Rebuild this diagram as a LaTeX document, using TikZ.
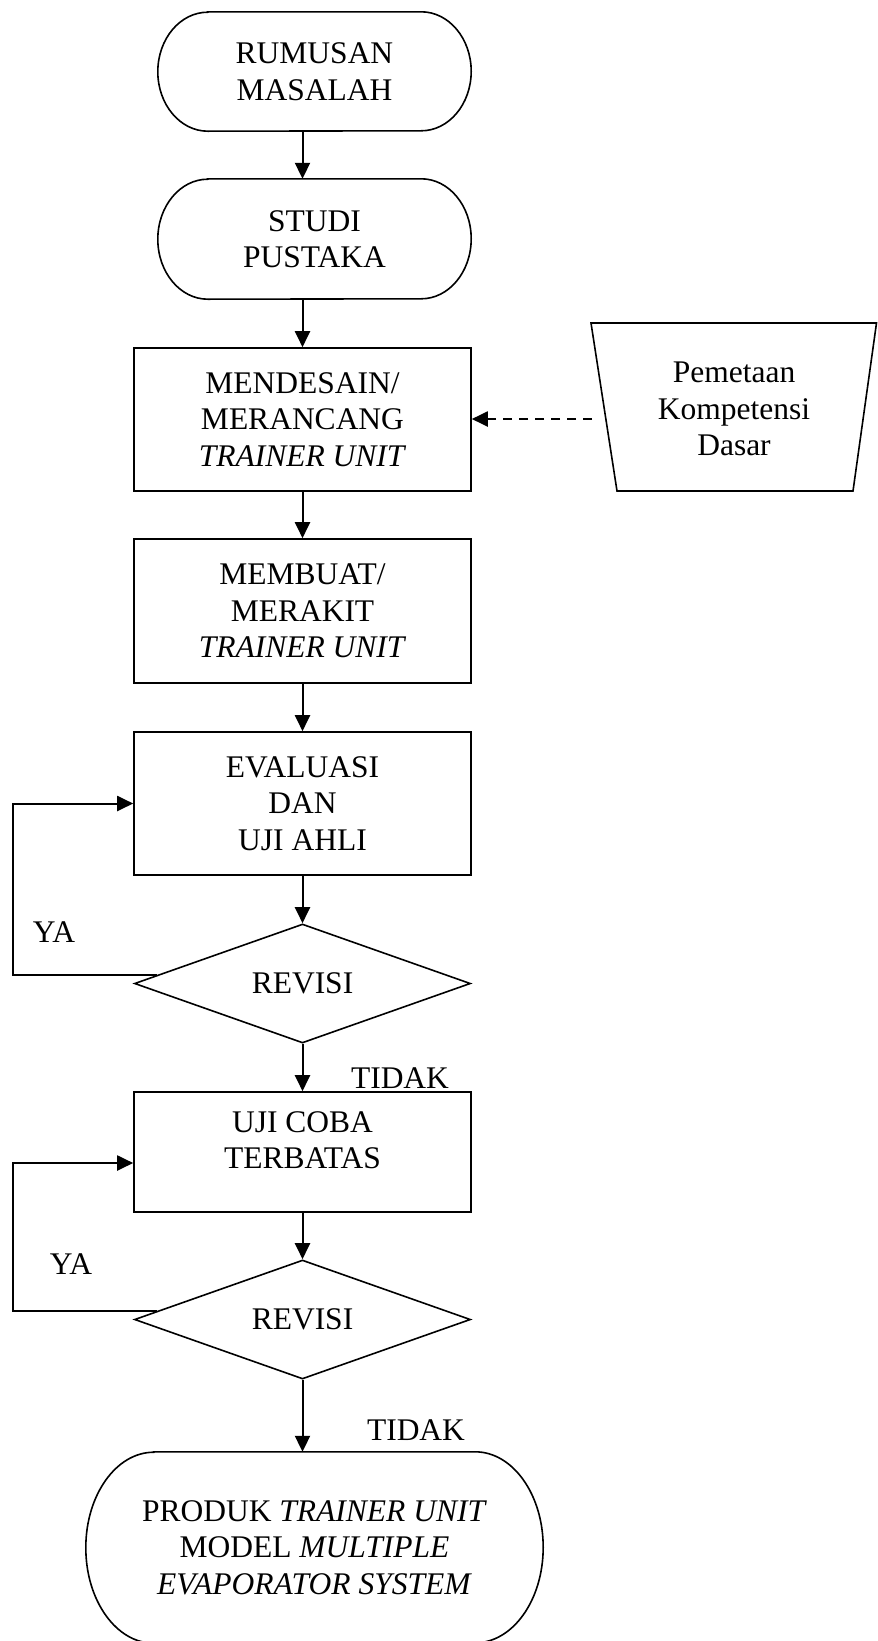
\documentclass[tikz,border=0pt]{standalone}
\usepackage{fontspec}
\setmainfont{Liberation Serif}
\usetikzlibrary{arrows.meta,calc,shapes.geometric}
\begin{document}
\begin{tikzpicture}[x=1pt,y=1pt,
  every node/.style={font=\fontsize{31.5}{36.5}\selectfont},
  shapeline/.style={line width=1.6pt},
  procbox/.style={draw,shapeline,rectangle,minimum width=337pt,inner sep=0pt,align=center},
  termbox/.style={rectangle,inner sep=0pt,align=center},
  decbox/.style={draw,shapeline,diamond,aspect=2.82,minimum width=336pt,minimum height=119pt,inner sep=0pt},
  lbl/.style={inner sep=0pt},
  arr/.style={line width=2pt,-{Triangle[length=16pt,width=15pt]}},
  dasharr/.style={line width=2pt,dash pattern=on 9pt off 7pt,-{Triangle[length=16pt,width=15pt]}}
]
\useasboundingbox (0,0) rectangle (878,-1641);
\clip (0,0) rectangle (878,-1641);

% terminals (text holders)
\node[termbox,minimum width=313pt,minimum height=119pt] (t1) at (314.5,-71.5) {RUMUSAN\\MASALAH};
\node[termbox,minimum width=313pt,minimum height=120pt] (t2) at (314.5,-239) {STUDI\\PUSTAKA};
\node[termbox,minimum width=457pt,minimum height=191pt] (t3) at (314.5,-1547.5)
  {PRODUK \textit{TRAINER UNIT}\\MODEL \textit{MULTIPLE}\\\textit{EVAPORATOR SYSTEM}};

% terminal outlines
\draw[shapeline] ([xshift=50pt]t1.north west) -- ([xshift=-50pt]t1.north east)
  arc[start angle=90,end angle=-90,x radius=50pt,y radius=59.5pt]
  -- ([xshift=50pt]t1.south west)
  arc[start angle=270,end angle=90,x radius=50pt,y radius=59.5pt] -- cycle;
\draw[shapeline] ([xshift=50pt]t2.north west) -- ([xshift=-50pt]t2.north east)
  arc[start angle=90,end angle=-90,x radius=50pt,y radius=60pt]
  -- ([xshift=50pt]t2.south west)
  arc[start angle=270,end angle=90,x radius=50pt,y radius=60pt] -- cycle;
\draw[shapeline] ([xshift=68pt]t3.north west) -- ([xshift=-68pt]t3.north east)
  arc[start angle=90,end angle=-90,x radius=68pt,y radius=95.5pt]
  -- ([xshift=68pt]t3.south west)
  arc[start angle=270,end angle=90,x radius=68pt,y radius=95.5pt] -- cycle;

% process boxes
\node[procbox,minimum height=143pt] (b1) at (302.5,-419.5) {MENDESAIN/\\MERANCANG\\\textit{TRAINER UNIT}};
\node[procbox,minimum height=144pt] (b2) at (302.5,-611) {MEMBUAT/\\MERAKIT\\\textit{TRAINER UNIT}};
\node[procbox,minimum height=143pt] (b3) at (302.5,-803.5) {EVALUASI\\DAN\\UJI AHLI};
\node[procbox,minimum height=120pt] (b4) at (302.5,-1152) {};
\node[lbl,align=center] (b4text) at (302.5,-1140) {UJI COBA\\TERBATAS};

% decisions
\node[decbox] (d1) at (302.5,-983.5) {REVISI};
\node[decbox] (d2) at (302.5,-1319.5) {REVISI};

% manual input (trapezoid)
\draw[shapeline] (591,-323) -- (876.5,-323) -- (853,-491) -- (617,-491) -- cycle;
\node[lbl,align=center] (trap) at (734,-409) {Pemetaan\\Kompetensi\\Dasar};
\coordinate (trapw) at (592,-419);

% labels
\node[lbl] (ya1) at (54,-932) {YA};
\node[lbl] (ya2) at (71,-1264) {YA};
\node[lbl] (tidak1) at (400,-1078) {TIDAK};
\node[lbl] (tidak2) at (416,-1430) {TIDAK};

% connectors
\draw[arr] (t1.south -| b1.north) -- (t2.north -| b1.north);
\draw[arr] (t2.south -| b1.north) -- (b1.north);
\draw[arr] (b1.south) -- (b2.north);
\draw[arr] (b2.south) -- (b3.north);
\draw[arr] (b3.south) -- (d1.north);
\draw[arr] (d1.south) -- (b4.north);
\draw[arr] (b4.south) -- (d2.north);
\draw[arr] (d2.south) -- (d2.south |- t3.north);
\draw[dasharr] (trapw) -- (trapw -| b1.east);

\coordinate (y1s) at ($(d1.west)!0.14!(d1.north)$);
\coordinate (y2s) at ($(d2.west)!0.14!(d2.north)$);
\coordinate (b4in) at ([yshift=-11pt]b4.west);
\draw[arr] (y1s) -- ++(-144,0) |- (b3.west);
\draw[arr] (y2s) -- ++(-144,0) |- (b4in);
\end{tikzpicture}
\end{document}
